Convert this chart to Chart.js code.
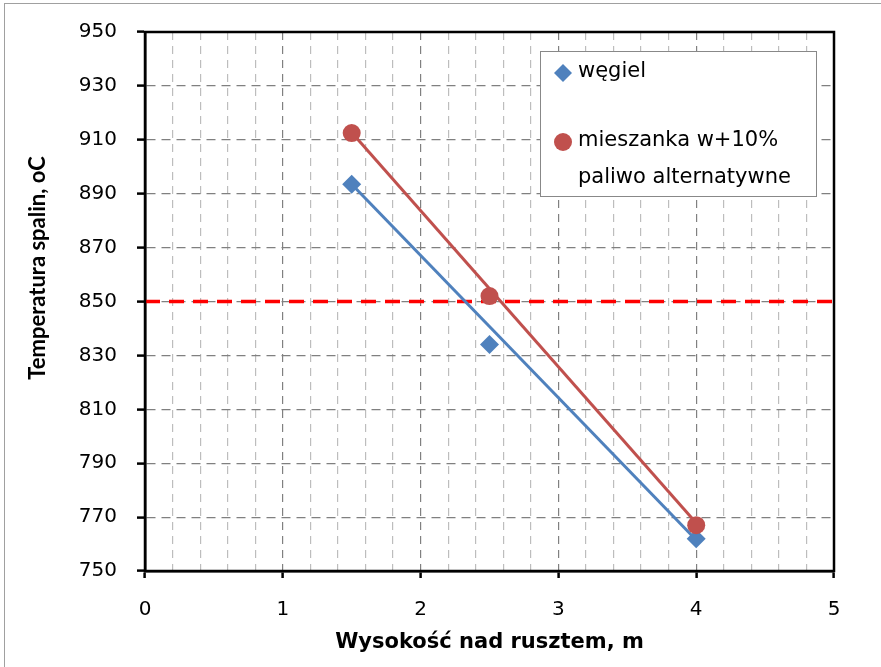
<!DOCTYPE html>
<html>
<head>
<meta charset="utf-8">
<script src="https://cdn.jsdelivr.net/npm/chart.js@4/dist/chart.umd.min.js"></script>
<style>
html,body{margin:0;padding:0;background:#fff;}
#wrap{width:881px;height:667px;position:relative;}
</style>
</head>
<body>
<div id="wrap"><canvas id="c" width="881" height="667"></canvas></div>
<script>
// ---- data ----
const xWegiel = [1.5, 2.5, 4];
const yWegiel = [893.5, 834, 762];
const xMieszanka = [1.5, 2.5, 4];
const yMieszanka = [912.5, 852, 767];
// trend lines (end points)
const trendWegielX = [1.5, 4];
const trendWegielY = [893.5, 761.5];
const trendMieszankaX = [1.5, 4];
const trendMieszankaY = [912.7, 767.8];
// reference limit line
const limitValue = 850;
const limitX = [0, 5];
const seriesNames = ['węgiel', 'mieszanka w+10%', 'paliwo alternatywne'];
const xTitle = 'Wysokość nad rusztem, m';
const yTitle = 'Temperatura spalin, oC';

const BLUE = '#4F81BD';
const RED = '#C0504D';

const toPts = (xs, ys) => xs.map((x, i) => ({x: x, y: ys[i]}));

const frame = {
  id: 'frame',
  beforeDraw(chart) {
    const ctx = chart.ctx;
    ctx.save();
    ctx.fillStyle = '#fff';
    ctx.fillRect(0, 0, chart.width, chart.height);
    ctx.strokeStyle = '#a0a0a0';
    ctx.lineWidth = 1;
    ctx.strokeRect(4.5, 3.5, chart.width + 10, chart.height + 10);
    ctx.restore();
  },
  afterDatasetsDraw(chart) {
    const ctx = chart.ctx;
    const a = chart.chartArea;
    ctx.save();
    ctx.strokeStyle = '#000';
    ctx.lineWidth = 2.5;
    ctx.strokeRect(a.left, a.top, a.right - a.left, a.bottom - a.top);
    ctx.restore();
  },
  afterDraw(chart) {
    const ctx = chart.ctx;
    ctx.save();
    // y axis title
    ctx.translate(38, 268);
    ctx.rotate(-Math.PI / 2);
    ctx.fillStyle = '#000';
    ctx.font = 'bold 22px Lato';
    ctx.textAlign = 'center';
    ctx.textBaseline = 'middle';
    ctx.fillText(yTitle, 0, 0);
    ctx.restore();

    ctx.save();
    // legend box
    const bx = 540.5, by = 51.5, bw = 276, bh = 145;
    ctx.fillStyle = '#fff';
    ctx.fillRect(bx, by, bw, bh);
    ctx.strokeStyle = '#888';
    ctx.lineWidth = 1;
    ctx.strokeRect(bx, by, bw, bh);
    // diamond
    ctx.fillStyle = BLUE;
    ctx.beginPath();
    ctx.moveTo(563, 64); ctx.lineTo(572, 73); ctx.lineTo(563, 82); ctx.lineTo(554, 73);
    ctx.closePath(); ctx.fill();
    // circle
    ctx.fillStyle = RED;
    ctx.beginPath(); ctx.arc(563, 142, 9, 0, Math.PI * 2); ctx.fill();
    ctx.fillStyle = '#000';
    ctx.font = '21px "DejaVu Sans"';
    ctx.textBaseline = 'middle';
    ctx.textAlign = 'left';
    ctx.fillText(seriesNames[0], 578, 72);
    ctx.fillText(seriesNames[1], 578, 141);
    ctx.fillText(seriesNames[2], 578, 178);
    ctx.restore();
  }
};

new Chart(document.getElementById('c'), {
  type: 'scatter',
  data: {
    datasets: [
      {
        label: 'limit',
        data: toPts(limitX, [limitValue, limitValue]),
        showLine: true, borderColor: '#FF0000', borderWidth: 3.5,
        borderDash: [15, 9], pointRadius: 0, order: 5
      },
      {
        label: 'trend węgiel',
        data: toPts(trendWegielX, trendWegielY),
        showLine: true, borderColor: BLUE, borderWidth: 3, pointRadius: 0, order: 4
      },
      {
        label: 'trend mieszanka',
        data: toPts(trendMieszankaX, trendMieszankaY),
        showLine: true, borderColor: RED, borderWidth: 3, pointRadius: 0, order: 3
      },
      {
        label: seriesNames[0],
        data: toPts(xWegiel, yWegiel),
        showLine: false, pointStyle: 'rectRot', pointRadius: 9.5,
        backgroundColor: BLUE, borderColor: BLUE, borderWidth: 0, order: 2
      },
      {
        label: seriesNames[1] + ' ' + seriesNames[2],
        data: toPts(xMieszanka, yMieszanka),
        showLine: false, pointStyle: 'circle', pointRadius: 9,
        backgroundColor: RED, borderColor: RED, borderWidth: 0, order: 1
      }
    ]
  },
  options: {
    responsive: false,
    animation: false,
    devicePixelRatio: 1,
    layout: {padding: {left: 0, top: 32, right: 47, bottom: 0}},
    plugins: {legend: {display: false}, tooltip: {enabled: false}},
    elements: {line: {tension: 0}},
    scales: {
      x: {
        type: 'linear', min: 0, max: 5,
        afterFit: (s) => { s.height = 96; },
        afterBuildTicks: (s) => {
          const t = [];
          for (let i = 0; i <= 25; i++) t.push({value: i / 5});
          s.ticks = t;
        },
        ticks: {
          autoSkip: false, maxRotation: 0, padding: 20,
          color: '#000', font: {family: 'DejaVu Sans', size: 20},
          callback: (v) => (Math.abs(v - Math.round(v)) < 1e-6 ? String(Math.round(v)) : '')
        },
        grid: {
          color: (c) => (Math.abs(c.tick.value - Math.round(c.tick.value)) < 1e-6 ? '#808080' : '#bdbdbd'),
          lineWidth: 1.2,
          tickLength: 7,
          tickColor: (c) => (Math.abs(c.tick.value - Math.round(c.tick.value)) < 1e-6 ? '#000' : 'rgba(0,0,0,0)'),
          tickWidth: 2.5
        },
        border: {display: true, color: '#000', width: 2.5, dash: [8, 6]},
        title: {
          display: true, text: xTitle, color: '#000',
          font: {family: 'DejaVu Sans', size: 21, weight: 'bold'},
          padding: {top: 12, bottom: 12}
        }
      },
      y: {
        type: 'linear', min: 750, max: 950,
        afterFit: (s) => { s.width = 145; },
        ticks: {
          stepSize: 20, padding: 20, color: '#000',
          font: {family: 'DejaVu Sans', size: 20}
        },
        grid: {
          color: '#808080', lineWidth: 1.2, tickLength: 8,
          tickColor: '#000', tickWidth: 2.5
        },
        border: {display: true, color: '#000', width: 2.5, dash: [9, 6]},
        title: {display: false}
      }
    }
  },
  plugins: [frame]
});
</script>
</body>
</html>
